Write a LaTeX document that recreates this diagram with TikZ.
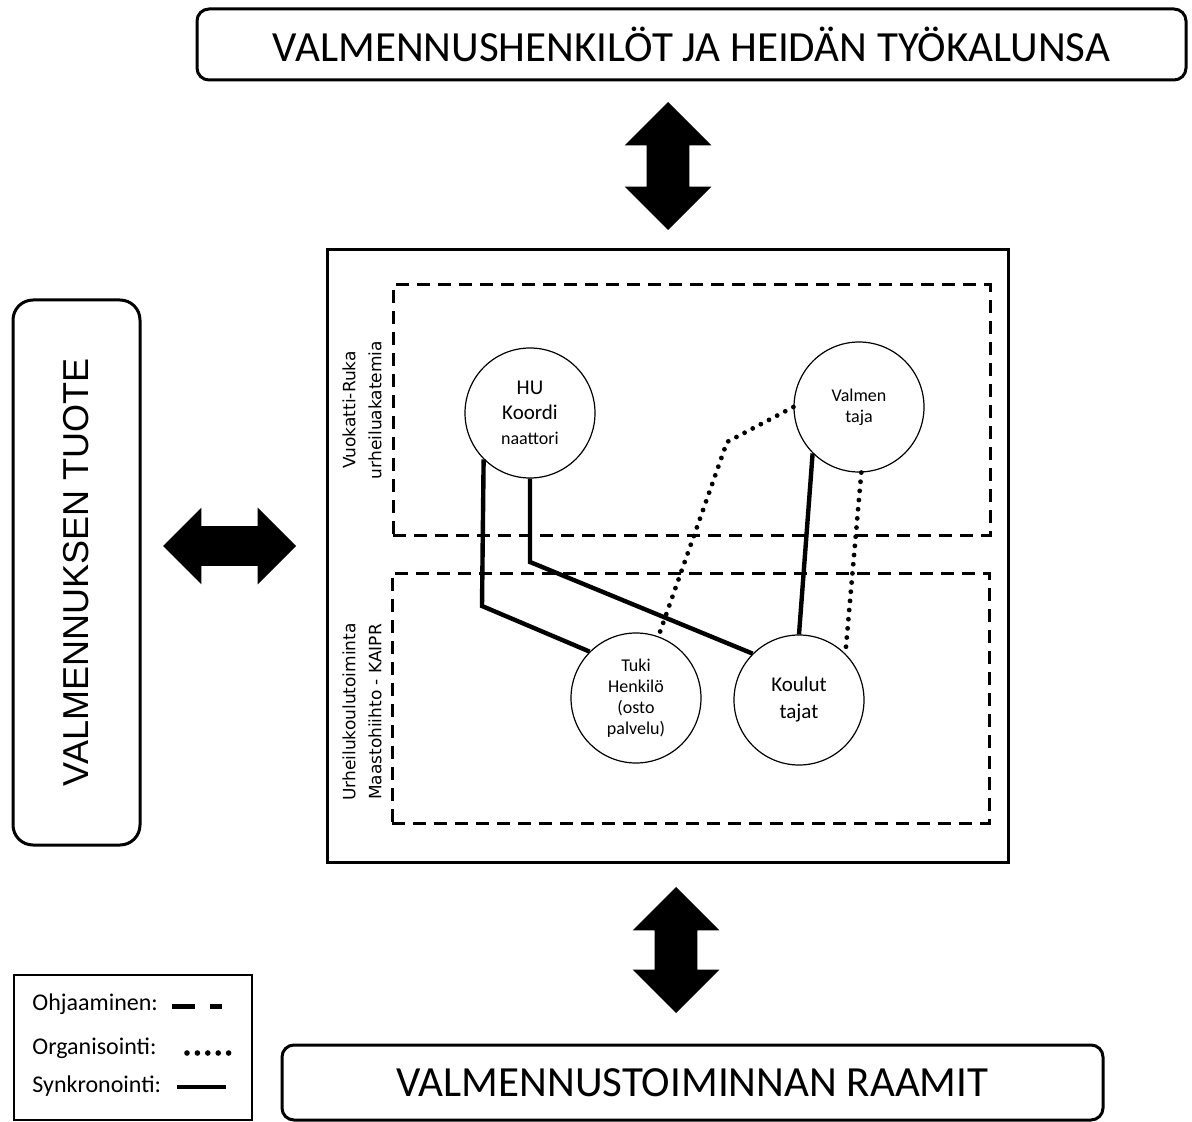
\documentclass[tikz,border=0pt]{standalone}
\usepackage{fontspec}
\setmainfont{Carlito}
\newfontfamily\arialfont{Liberation Sans}
\newfontfamily\verdfont{DejaVu Sans}
\usepackage{tikz}
\usetikzlibrary{positioning, shapes.arrows}

\begin{document}
\begin{tikzpicture}[x=0.5pt, y=-0.5pt,
    framebox/.style={draw, line width=1.5pt, rounded corners=6pt, inner sep=0pt},
    groupbox/.style={draw, line width=1.5pt, dash pattern=on 6.5pt off 4pt, minimum width=298.5pt, minimum height=125pt},
    grouplabel/.style={rotate=90, align=center, inner sep=0pt, font=\verdfont\fontsize{8.5}{13}\selectfont},
    role/.style={draw, circle, line width=0.6pt, minimum size=65pt, inner sep=0pt, align=center},
    blockarrow/.style={fill=black, double arrow, double arrow head extend=11pt, inner xsep=0pt, inner ysep=10.5pt},
    legtext/.style={inner sep=0pt, font=\fontsize{12}{14}\selectfont},
    sync/.style={line width=2.2pt},
    organ/.style={line width=2.4pt, line cap=round, dash pattern=on 0pt off 4.6pt}]
            \useasboundingbox (0,0) rectangle (1192,1122);
            \node[framebox, minimum width=494.5pt, minimum height=35.5pt, font=\fontsize{21.5}{26}\selectfont] (tools) at (691.5,44.5) {VALMENNUSHENKILÖT JA HEIDÄN TYÖKALUNSA};
            \node[blockarrow, minimum height=64pt, rotate=90] (toparr) at (668,166) {};
            \node[framebox, rounded corners=10pt, rotate=90, minimum width=272.5pt, minimum height=63.5pt, font=\arialfont\fontsize{18}{22}\selectfont] (tuote) at (76.5,572.5) {VALMENNUKSEN TUOTE};
            \node[blockarrow, minimum height=66.5pt, inner ysep=9.75pt, double arrow head extend=9.25pt] (leftarr) at (229.5,546) {};
            \node[draw, line width=1.5pt, minimum width=340.5pt, minimum height=306pt] (core) at (667.5,556) {};
            \node[groupbox] (akat) at (691.5,410) {};
            \node[groupbox] (koulu) at (690.5,698) {};
            \node[grouplabel] (akatlabel) at (362,410) {Vuokatti-Ruka\\urheiluakatemia};
            \node[grouplabel] (koululabel) at (362,712) {Urheilukoulutoiminta\\Maastohiihto - KAIPR};
            \node[role, font=\fontsize{10.5}{12.5}\selectfont] (hu) at (530,413) {HU\\Koordi\\\fontsize{9}{12.5}\selectfont naattori};
            \node[role, font=\fontsize{9}{10.5}\selectfont] (valm) at (859,407) {Valmen\\taja};
            \node[role, font=\fontsize{9}{10.5}\selectfont] (tuki) at (636,698) {Tuki\\Henkilö\\(osto\\palvelu)};
            \node[role, font=\fontsize{10.5}{13.5}\selectfont] (koul) at (799,700) {Koulut\\tajat};
            \coordinate (hubendl) at (482,606);
            \coordinate (hubendr) at (530,562);
            \coordinate (valmbend) at (727,442);
            \draw[sync] (hu.225) -- (hubendl) -- (tuki.135);
            \draw[sync] (hu.270) -- (hubendr) -- (koul.135);
            \draw[organ] (valm.180) -- (valmbend) -- (tuki.70);
            \draw[sync] (valm.225) -- (koul.90);
            \draw[organ] (valm.272) -- (koul.45);
            \node[blockarrow, minimum height=63pt, rotate=90] (botarr) at (676,950) {};
            \node[framebox, minimum width=410.5pt, minimum height=37.5pt, font=\fontsize{21.5}{26}\selectfont] (raamit) at (692.5,1082.5) {VALMENNUSTOIMINNAN RAAMIT};
            \node[draw, line width=0.75pt, minimum width=119pt, minimum height=72.5pt] (legend) at (133,1047.5) {};
            \node[legtext, anchor=west] (ohj) at (32,1004) {Ohjaaminen:};
            \node[legtext, below=22pt of ohj.west, anchor=west] (org) {Organisointi:};
            \node[legtext, below=19pt of org.west, anchor=west] (syn) {Synkronointi:};
            \draw[line width=2.5pt] (172,1006) -- (195,1006) (210,1006) -- (222,1006);
            \draw[organ, line width=2.8pt, dash pattern=on 0pt off 5.2pt] (187,1053) -- (229,1053);
            \draw[line width=2.2pt] (177,1087) -- (226,1087);
\end{tikzpicture}
\end{document}
